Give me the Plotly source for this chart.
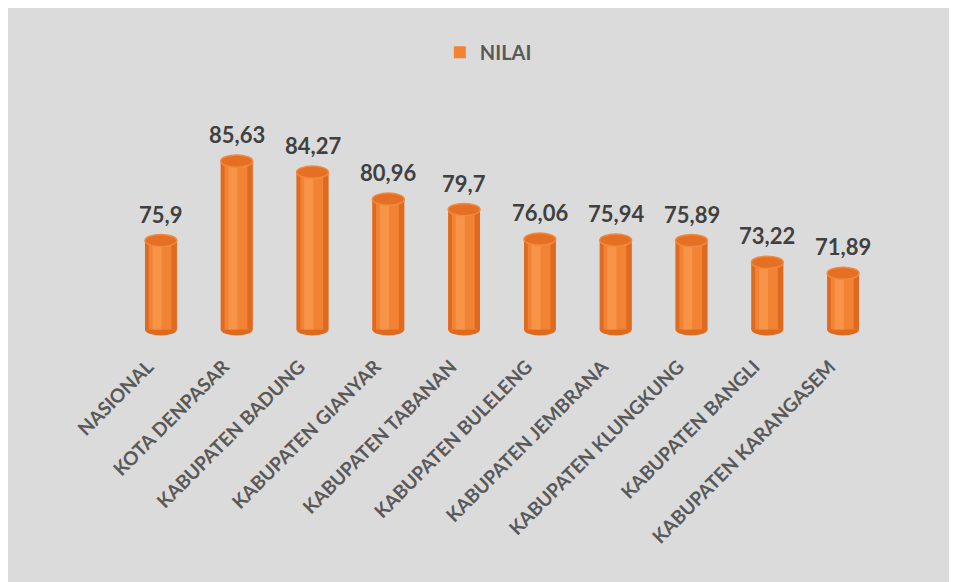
import plotly.graph_objects as go

CATEGORIES = [
    "NASIONAL", "KOTA DENPASAR", "KABUPATEN BADUNG", "KABUPATEN GIANYAR",
    "KABUPATEN TABANAN", "KABUPATEN BULELENG", "KABUPATEN JEMBRANA",
    "KABUPATEN KLUNGKUNG", "KABUPATEN BANGLI", "KABUPATEN KARANGASEM",
]
NILAI = [75.9, 85.63, 84.27, 80.96, 79.7, 76.06, 75.94, 75.89, 73.22, 71.89]
SERIES_NAME = "NILAI"
AXIS_BASE = 65

BG = "#DBDBDB"
INK = "#404040"
TICK_INK = "#595959"
ORANGE = {"edge": "#DE6A1F", "mid": "#F28234", "light": "#F89448",
          "cap": "#E56F22", "rim": "#F08A40"}

xs = list(range(len(CATEGORIES)))
heights = [v - AXIS_BASE for v in NILAI]
labels = [f"{v:g}".replace(".", ",") for v in NILAI]
W = 0.42
CAP = 0.75

fig = go.Figure()
# cylinder body: dark edges, lighter stripe left of centre
fig.add_trace(go.Bar(
    x=xs, y=heights, base=AXIS_BASE, width=W, name=SERIES_NAME,
    marker=dict(color=ORANGE["mid"], line_width=0), showlegend=True,
    hoverinfo="skip",
))
fig.add_trace(go.Bar(
    x=xs, y=heights, base=AXIS_BASE, width=0.07, offset=0.14,
    marker=dict(color=ORANGE["edge"], line_width=0), showlegend=False,
    hoverinfo="skip",
))
fig.add_trace(go.Bar(
    x=xs, y=heights, base=AXIS_BASE, width=0.05, offset=-0.21,
    marker=dict(color=ORANGE["edge"], line_width=0), showlegend=False,
    hoverinfo="skip",
))
fig.add_trace(go.Bar(
    x=xs, y=heights, base=AXIS_BASE, width=0.12, offset=-0.11,
    marker=dict(color=ORANGE["light"], line_width=0), showlegend=False,
    hoverinfo="skip",
))

shapes = []
for x, v in zip(xs, NILAI):
    # rounded bottom
    shapes.append(dict(type="circle", xref="x", yref="y",
                       x0=x - W / 2, x1=x + W / 2, y0=AXIS_BASE - CAP, y1=AXIS_BASE + CAP,
                       fillcolor=ORANGE["edge"], line_width=0, layer="below"))
    # top cap
    shapes.append(dict(type="circle", xref="x", yref="y",
                       x0=x - W / 2, x1=x + W / 2, y0=v - CAP, y1=v + CAP,
                       fillcolor=ORANGE["cap"], line=dict(color=ORANGE["rim"], width=1.5)))

annotations = [dict(
    x=x, y=v, text=t, showarrow=False, yanchor="bottom", yshift=11,
    font=dict(family="Lato", size=22, color=INK, weight="bold"),
) for x, v, t in zip(xs, NILAI, labels)]

fig.update_layout(
    width=957, height=582,
    barmode="overlay",
    paper_bgcolor=BG, plot_bgcolor=BG,
    margin=dict(l=115, r=84, t=124, b=254),
    shapes=shapes, annotations=annotations,
    legend=dict(orientation="h", x=0.482, xanchor="center", yref="container",
                y=0.924, yanchor="middle", bgcolor="rgba(0,0,0,0)",
                font=dict(family="Lato", size=20, color=TICK_INK, weight="bold")),
)
fig.update_xaxes(
    range=[-0.5, len(CATEGORIES) - 0.5], tickmode="array", tickvals=xs,
    ticktext=CATEGORIES, tickangle=-45, showgrid=False, zeroline=False,
    ticks="", ticklabelstandoff=15, ticklabelshift=-13,
    tickfont=dict(family="Lato", size=19, color=TICK_INK, weight="bold"),
)
fig.update_yaxes(range=[64.2, 89.2], visible=False)

fig.write_html("out.html")
